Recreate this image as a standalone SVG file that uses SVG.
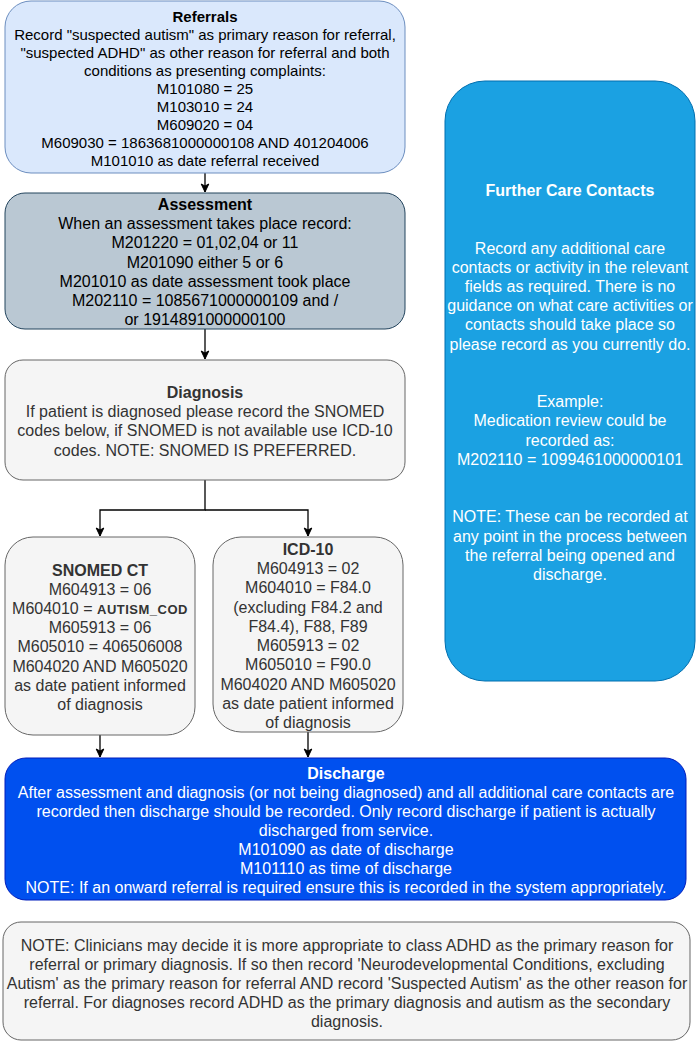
<svg xmlns="http://www.w3.org/2000/svg" width="696" height="1042" viewBox="0 0 696 1042">
<style>
text{font-family:"Liberation Sans",Arial,Helvetica,sans-serif;text-anchor:middle;}
.t16{font-size:16px;}
.t15{font-size:15px;}
.b{font-weight:bold;}
.grey{fill:#333333;}
.white{fill:#ffffff;}
.blk{fill:#000000;}
.edge{fill:none;stroke:#000000;stroke-width:1.3;}
</style>
<defs>
<marker id="arr" markerUnits="userSpaceOnUse" markerWidth="10" markerHeight="10" refX="9" refY="5" orient="auto">
<path d="M1,1.2 L9,5 L1,8.8 L3,5 Z" fill="#000000" stroke="#000000" stroke-width="1"/>
</marker>
</defs>
<rect width="696" height="1042" fill="#ffffff"/>

<g id="connectors">
<line class="edge" x1="205" y1="173" x2="205" y2="192" marker-end="url(#arr)"/>
<line class="edge" x1="205" y1="329" x2="205" y2="359" marker-end="url(#arr)"/>
<polyline class="edge" points="205,480 205,510 100,510 100,536" marker-end="url(#arr)"/>
<polyline class="edge" points="205,510 308,510 308,536" marker-end="url(#arr)"/>
<line class="edge" x1="100" y1="735" x2="100" y2="757" marker-end="url(#arr)"/>
<line class="edge" x1="308" y1="732" x2="308" y2="757" marker-end="url(#arr)"/>
</g>

<g id="referrals">
<rect x="5" y="1" width="400" height="172" rx="26" ry="26" fill="#dae8fc" stroke="#6c8ebf" stroke-width="1"/>
<g class="t15 blk">
<text x="205" y="21.5" class="b">Referrals</text>
<text x="205" y="39.6">Record "suspected autism" as primary reason for referral,</text>
<text x="205" y="57.7">"suspected ADHD" as other reason for referral and both</text>
<text x="205" y="75.8">conditions as presenting complaints:</text>
<text x="205" y="93.9">M101080 = 25</text>
<text x="205" y="112">M103010 = 24</text>
<text x="205" y="130.1">M609020 = 04</text>
<text x="205" y="148.2">M609030 = 1863681000000108 AND 401204006</text>
<text x="205" y="166.3">M101010 as date referral received</text>
</g>
</g>

<g id="assessment">
<rect x="5" y="193" width="400" height="136" rx="20" ry="20" fill="#bac8d3" stroke="#23445d" stroke-width="1"/>
<g class="t16 blk">
<text x="205" y="209.6" class="b">Assessment</text>
<text x="205" y="228.9">When an assessment takes place record:</text>
<text x="205" y="248.2">M201220 = 01,02,04 or 11</text>
<text x="205" y="267.5">M201090 either 5 or 6</text>
<text x="205" y="286.8">M201010 as date assessment took place</text>
<text x="205" y="306.1">M202110 = 1085671000000109 and /</text>
<text x="205" y="325.4">or 1914891000000100</text>
</g>
</g>

<g id="diagnosis">
<rect x="5" y="360" width="400" height="120" rx="18" ry="18" fill="#f5f5f5" stroke="#666666" stroke-width="1"/>
<g class="t16 grey">
<text x="205" y="398" class="b">Diagnosis</text>
<text x="205" y="417.2">If patient is diagnosed please record the SNOMED</text>
<text x="205" y="436.4">codes below, if SNOMED is not available use ICD-10</text>
<text x="205" y="455.6">codes. NOTE: SNOMED IS PREFERRED.</text>
</g>
</g>

<g id="snomed">
<rect x="5" y="537" width="190" height="198" rx="28" ry="28" fill="#f5f5f5" stroke="#666666" stroke-width="1"/>
<g class="t16 grey">
<text x="100" y="575.6" class="b">SNOMED CT</text>
<text x="100" y="594.8">M604913 = 06</text>
<text x="100" y="614">M604010 = <tspan class="b" style="font-size:13px;letter-spacing:0.5px">AUTISM_COD</tspan></text>
<text x="100" y="633.2">M605913 = 06</text>
<text x="100" y="652.4">M605010 = 406506008</text>
<text x="100" y="671.6">M604020 AND M605020</text>
<text x="100" y="690.8">as date patient informed</text>
<text x="100" y="710">of diagnosis</text>
</g>
</g>

<g id="icd10">
<rect x="213" y="537" width="190" height="195" rx="28" ry="28" fill="#f5f5f5" stroke="#666666" stroke-width="1"/>
<g class="t16 grey">
<text x="308" y="554.6" class="b">ICD-10</text>
<text x="308" y="573.9">M604913 = 02</text>
<text x="308" y="593.2">M604010 = F84.0</text>
<text x="308" y="612.5">(excluding F84.2 and</text>
<text x="308" y="631.8">F84.4), F88, F89</text>
<text x="308" y="651.1">M605913 = 02</text>
<text x="308" y="670.4">M605010 = F90.0</text>
<text x="308" y="689.7">M604020 AND M605020</text>
<text x="308" y="709">as date patient informed</text>
<text x="308" y="728.3">of diagnosis</text>
</g>
</g>

<g id="further-care">
<rect x="445" y="81" width="250" height="600" rx="40" ry="40" fill="#1ba1e2" stroke="#006eaf" stroke-width="1"/>
<g class="t16 white">
<text x="570" y="195.6" class="b">Further Care Contacts</text>
<text x="570" y="253.6">Record any additional care</text>
<text x="570" y="272.8">contacts or activity in the relevant</text>
<text x="570" y="292">fields as required. There is no</text>
<text x="570" y="311.2">guidance on what care activities or</text>
<text x="570" y="330.4">contacts should take place so</text>
<text x="570" y="349.6">please record as you currently do.</text>
<text x="570" y="407.2">Example:</text>
<text x="570" y="426.4">Medication review could be</text>
<text x="570" y="445.6">recorded as:</text>
<text x="570" y="464.8">M202110 = 1099461000000101</text>
<text x="570" y="522.4">NOTE: These can be recorded at</text>
<text x="570" y="541.6">any point in the process between</text>
<text x="570" y="560.8">the referral being opened and</text>
<text x="570" y="580">discharge.</text>
</g>
</g>

<g id="discharge">
<rect x="5" y="758" width="681" height="142" rx="21" ry="21" fill="#0050ef" stroke="#001dbc" stroke-width="1"/>
<g class="t16 white">
<text x="346" y="778.6" class="b">Discharge</text>
<text x="346" y="797.6">After assessment and diagnosis (or not being diagnosed) and all additional care contacts are</text>
<text x="346" y="816.6">recorded then discharge should be recorded. Only record discharge if patient is actually</text>
<text x="346" y="835.6">discharged from service.</text>
<text x="346" y="854.6">M101090 as date of discharge</text>
<text x="346" y="873.6">M101110 as time of discharge</text>
<text x="346" y="892.6">NOTE: If an onward referral is required ensure this is recorded in the system appropriately.</text>
</g>
</g>

<g id="note">
<rect x="3" y="922" width="687" height="118" rx="18" ry="18" fill="#f5f5f5" stroke="#666666" stroke-width="1"/>
<g class="t16 grey">
<text x="347" y="950.6">NOTE: Clinicians may decide it is more appropriate to class ADHD as the primary reason for</text>
<text x="347" y="969.6">referral or primary diagnosis. If so then record 'Neurodevelopmental Conditions, excluding</text>
<text x="347" y="988.6">Autism' as the primary reason for referral AND record 'Suspected Autism' as the other reason for</text>
<text x="347" y="1007.6">referral. For diagnoses record ADHD as the primary diagnosis and autism as the secondary</text>
<text x="347" y="1026.6">diagnosis.</text>
</g>
</g>
</svg>
